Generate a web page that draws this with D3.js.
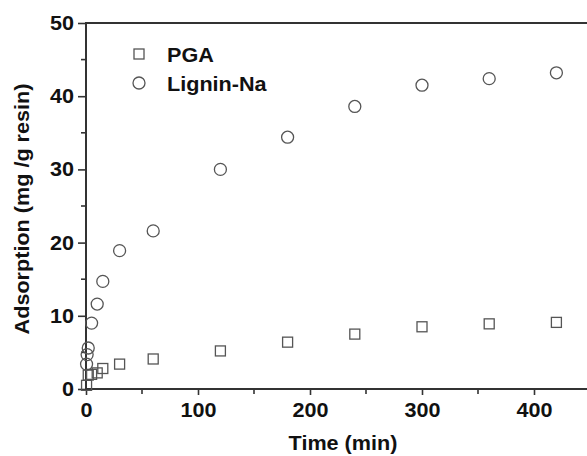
<!DOCTYPE html>
<html>
<head>
<meta charset="utf-8">
<script src="https://cdn.jsdelivr.net/npm/d3@7"></script>
<style>
  body { margin: 0; background: #fff; }
  text { font-family: "Liberation Sans", Arial, sans-serif; font-weight: bold; fill: #111; }
</style>
</head>
<body>
<div id="chart"></div>
<script>
// data
const pgaTime = [0.5, 2, 5, 10, 15, 30, 60, 120, 180, 240, 300, 360, 420];
const pgaValue = [0.5, 1.9, 2.0, 2.2, 2.8, 3.4, 4.1, 5.2, 6.4, 7.5, 8.5, 8.9, 9.1];
const ligTime = [0.5, 1, 2, 5, 10, 15, 30, 60, 120, 180, 240, 300, 360, 420];
const ligValue = [3.4, 4.7, 5.6, 9.0, 11.6, 14.7, 18.9, 21.6, 30.0, 34.4, 38.6, 41.5, 42.4, 43.2];
const xTicks = [0, 100, 200, 300, 400];
const yTicks = [0, 10, 20, 30, 40, 50];
const legendLabels = ['PGA', 'Lignin-Na'];

const width = 587, height = 456;
const margin = {left: 86, top: 23, right: -3, bottom: 67};
const fontSize = '20px';

const svg = d3.select('#chart').append('svg')
    .attr('width', width)
    .attr('height', height);

const x = d3.scaleLinear().domain([0, 450]).range([margin.left, width - margin.right]);
const y = d3.scaleLinear().domain([0, 50]).range([height - margin.bottom, margin.top]);

const axisColor = '#333';
const markColor = '#555';

// minor ticks
const xMinor = d3.range(50, 450, 100);
const yMinor = d3.range(5, 50, 10);

// x axis
const gx = svg.append('g').attr('transform', `translate(0,${y(0)})`);
gx.call(d3.axisBottom(x).tickValues(xTicks).tickSize(6).tickPadding(8).tickFormat(d3.format('d')));
gx.call(g => g.select('.domain').remove());
gx.selectAll('.tick line').attr('stroke', axisColor).attr('stroke-width', 1.6);
gx.selectAll('.tick text').style('font-size', fontSize).attr('fill', '#111');
gx.selectAll('.minor').data(xMinor).enter().append('line')
    .attr('x1', d => x(d)).attr('x2', d => x(d))
    .attr('y1', 0).attr('y2', 5)
    .attr('stroke', axisColor).attr('stroke-width', 1.6);

// y axis
const gy = svg.append('g').attr('transform', `translate(${x(0)},0)`);
gy.call(d3.axisLeft(y).tickValues(yTicks).tickSize(8).tickPadding(4).tickFormat(d3.format('d')));
gy.call(g => g.select('.domain').remove());
gy.selectAll('.tick line').attr('stroke', axisColor).attr('stroke-width', 1.6);
gy.selectAll('.tick text').style('font-size', fontSize).attr('fill', '#111');
gy.selectAll('.minor').data(yMinor).enter().append('line')
    .attr('y1', d => y(d)).attr('y2', d => y(d))
    .attr('x1', 0).attr('x2', -5)
    .attr('stroke', axisColor).attr('stroke-width', 1.6);

// frame lines (left, bottom, top)
svg.append('line')
    .attr('x1', x(0)).attr('x2', x(0)).attr('y1', y(0) + 1).attr('y2', y(50) - 1)
    .attr('stroke', axisColor).attr('stroke-width', 2);
svg.append('line')
    .attr('x1', x(0) - 1).attr('x2', width).attr('y1', y(0)).attr('y2', y(0))
    .attr('stroke', axisColor).attr('stroke-width', 2);
svg.append('line')
    .attr('x1', x(0) - 1).attr('x2', width).attr('y1', y(50)).attr('y2', y(50))
    .attr('stroke', axisColor).attr('stroke-width', 2);

// axis titles
svg.append('text')
    .attr('x', 343).attr('y', 450)
    .attr('text-anchor', 'middle')
    .style('font-size', fontSize)
    .text('Time (min)');
svg.append('text')
    .attr('transform', `translate(29,209) rotate(-90)`)
    .attr('text-anchor', 'middle')
    .style('font-size', fontSize)
    .text('Adsorption (mg /g resin)');

// series
const sq = 10, r = 6;
svg.append('g').selectAll('rect')
    .data(pgaTime.map((t, i) => [t, pgaValue[i]]))
    .enter().append('rect')
    .attr('x', d => x(d[0]) - sq / 2)
    .attr('y', d => y(d[1]) - sq / 2)
    .attr('width', sq).attr('height', sq)
    .attr('fill', 'none').attr('stroke', markColor).attr('stroke-width', 1.3);

svg.append('g').selectAll('circle')
    .data(ligTime.map((t, i) => [t, ligValue[i]]))
    .enter().append('circle')
    .attr('cx', d => x(d[0]))
    .attr('cy', d => y(d[1]))
    .attr('r', r)
    .attr('fill', 'none').attr('stroke', markColor).attr('stroke-width', 1.3);

// legend
const legend = svg.append('g');
legend.append('rect')
    .attr('x', 139 - sq / 2).attr('y', 54 - sq / 2)
    .attr('width', sq).attr('height', sq)
    .attr('fill', 'none').attr('stroke', markColor).attr('stroke-width', 1.3);
legend.append('circle')
    .attr('cx', 139).attr('cy', 83).attr('r', r)
    .attr('fill', 'none').attr('stroke', markColor).attr('stroke-width', 1.3);
legend.selectAll('text').data(legendLabels).enter().append('text')
    .attr('x', 167)
    .attr('y', (d, i) => 62 + i * 29)
    .style('font-size', fontSize)
    .text(d => d);

// the source font is a bit wider than Liberation Sans: stretch glyphs slightly
svg.selectAll('text').each(function() {
  const len = this.getComputedTextLength();
  d3.select(this)
      .attr('textLength', len * 1.08)
      .attr('lengthAdjust', 'spacingAndGlyphs');
});
</script>
</body>
</html>
